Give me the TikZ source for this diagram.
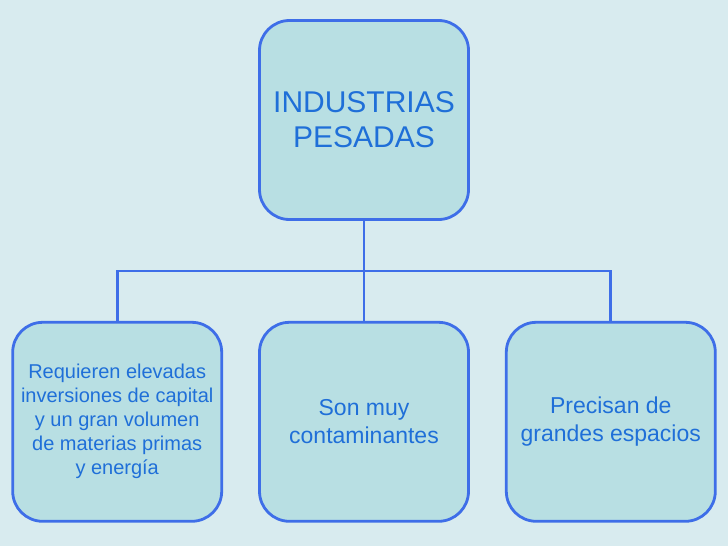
\documentclass[tikz,border=0pt]{standalone}
\usepackage{fontspec}
\setmainfont{Liberation Sans}
\usetikzlibrary{positioning,calc}

\definecolor{bgblue}{HTML}{D8EBEF}
\definecolor{boxfill}{HTML}{B8DFE3}
\definecolor{boxline}{HTML}{3E6EE8}
\definecolor{txtblue}{HTML}{1F6FD8}

\begin{document}
\begin{tikzpicture}[
    x=1pt, y=1pt,
    node distance=100pt and 35pt,
    box/.style={draw=boxline, fill=boxfill, line width=2.8pt, rounded corners=30pt,
                minimum width=209pt, minimum height=199pt, align=center,
                text=txtblue, inner sep=1pt},
    toptext/.style={font=\fontsize{30}{35}\selectfont},
    subtext/.style={font=\fontsize{20}{24}\selectfont},
    bigtext/.style={font=\fontsize{23}{28}\selectfont},
    link/.style={draw=boxline, line width=2.8pt},
  ]
    % background
    \fill[bgblue] (0,0) rectangle (728,-546);
    \useasboundingbox (0,0) rectangle (728,-546);

    % main node
    \node[box, toptext] (pesadas) at (364,-120) {INDUSTRIAS\\ PESADAS};

    % features
    \node[box, bigtext, below=of pesadas] (contam) {Son muy\\contaminantes};
    \node[box, subtext, left=of contam] (inversion)
      {Requieren elevadas\\inversiones de capital\\y un gran volumen\\de materias primas\\y energía};
    \node[box, bigtext, right=of contam] (espacio) {Precisan de\\grandes espacios};

    % connectors
    \coordinate (bus) at ($(pesadas.south)!0.5!(contam.north)$);
    \draw[link] (pesadas.south) -- (contam.north);
    \draw[link] (inversion.north) |- (bus) -| (espacio.north);
\end{tikzpicture}
\end{document}
